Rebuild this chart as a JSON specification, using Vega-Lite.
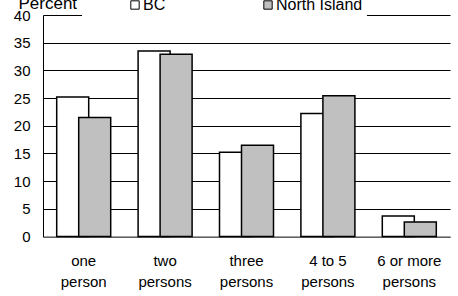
{
  "$schema": "https://vega.github.io/schema/vega-lite/v6.json",
  "width": 407,
  "height": 221.5,
  "autosize": {"type": "none"},
  "padding": {"left": 43, "top": 15, "right": 8, "bottom": 59.5},
  "background": "white",
  "data": {
    "values": [
      {"household": "one person", "region": "BC", "pct": 25.2},
      {"household": "one person", "region": "North Island", "pct": 21.5},
      {"household": "two persons", "region": "BC", "pct": 33.5},
      {"household": "two persons", "region": "North Island", "pct": 32.9},
      {"household": "three persons", "region": "BC", "pct": 15.2},
      {"household": "three persons", "region": "North Island", "pct": 16.5},
      {"household": "4 to 5 persons", "region": "BC", "pct": 22.2},
      {"household": "4 to 5 persons", "region": "North Island", "pct": 25.4},
      {"household": "6 or more persons", "region": "BC", "pct": 3.7},
      {"household": "6 or more persons", "region": "North Island", "pct": 2.6}
    ]
  },
  "mark": {"type": "bar", "width": 32, "stroke": "#000000", "strokeWidth": 1.5},
  "encoding": {
    "x": {
      "field": "household",
      "type": "nominal",
      "sort": null,
      "scale": {"paddingInner": 0, "paddingOuter": 0},
      "axis": {
        "title": null,
        "ticks": false,
        "grid": false,
        "domain": true,
        "domainColor": "#808080",
        "domainWidth": 1.5,
        "labelAngle": 0,
        "labelFontSize": 15,
        "labelColor": "#000000",
        "labelPadding": 17,
        "labelLineHeight": 21,
        "labelExpr": "[substring(datum.value, 0, lastindexof(datum.value, ' ')), substring(datum.value, lastindexof(datum.value, ' ') + 1)]"
      }
    },
    "xOffset": {
      "field": "region",
      "type": "nominal",
      "scale": {"range": [18.7, 62.7], "paddingInner": 0, "paddingOuter": 0}
    },
    "y": {
      "field": "pct",
      "type": "quantitative",
      "scale": {"domain": [0, 40], "nice": false},
      "axis": {
        "values": [0, 5, 10, 15, 20, 25, 30, 35, 40],
        "ticks": false,
        "domain": true,
        "domainColor": "#000000",
        "grid": true,
        "gridColor": "#000000",
        "gridWidth": 1,
        "labelPadding": 13,
        "labelFontSize": 15,
        "labelColor": "#000000",
        "title": "Percent",
        "titleAngle": 0,
        "titleX": -25,
        "titleY": -7,
        "titleAlign": "left",
        "titleBaseline": "alphabetic",
        "titleFontWeight": "normal",
        "titleFontSize": 17,
        "titleColor": "#000000"
      }
    },
    "fill": {
      "field": "region",
      "type": "nominal",
      "scale": {"range": ["#ffffff", "#c0c0c0"]},
      "legend": {
        "orient": "none",
        "legendX": 39,
        "legendY": -22,
        "direction": "horizontal",
        "title": null,
        "fillColor": "white",
        "padding": 4,
        "symbolType": "square",
        "symbolSize": 70,
        "symbolStrokeColor": "#000000",
        "symbolStrokeWidth": 1,
        "symbolOpacity": 1,
        "labelFontSize": 16,
        "labelColor": "#000000",
        "labelOffset": 0,
        "symbolOffset": 41,
        "columnPadding": 53
      }
    }
  },
  "config": {
    "font": "Liberation Sans",
    "view": {"stroke": null}
  }
}
